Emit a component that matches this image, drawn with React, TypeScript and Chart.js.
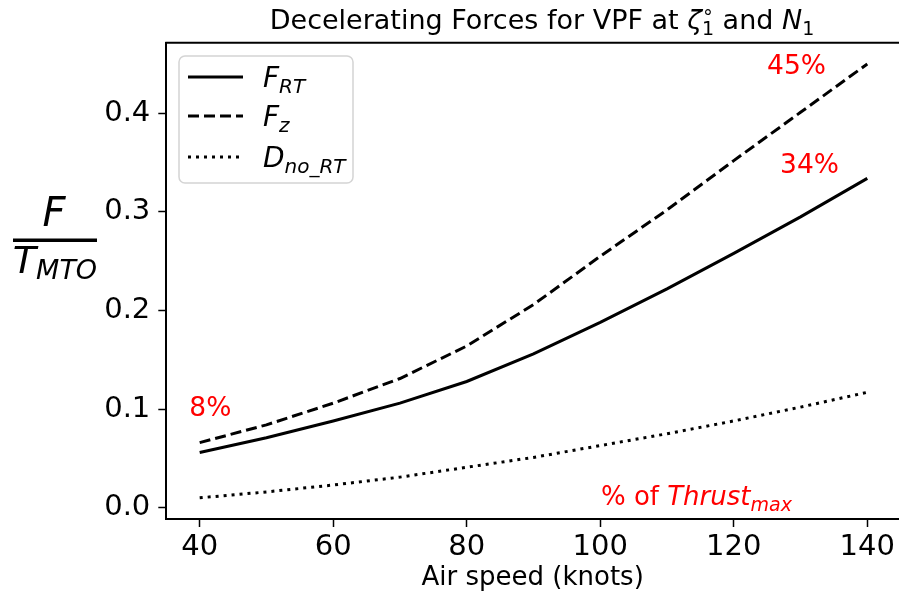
import React, { useEffect, useRef } from "react";
import { Chart, registerables } from "chart.js";

Chart.register(...registerables);

// ---- data ----
const airSpeed = [40, 50, 60, 70, 80, 90, 100, 110, 120, 130, 140];
const fRT = [0.056, 0.071, 0.088, 0.106, 0.128, 0.156, 0.188, 0.222, 0.258, 0.295, 0.334];
const fZ = [0.066, 0.084, 0.106, 0.131, 0.164, 0.206, 0.255, 0.302, 0.352, 0.401, 0.45];
const dNoRT = [0.010, 0.016, 0.023, 0.031, 0.041, 0.051, 0.063, 0.075, 0.088, 0.102, 0.117];
const xTicks = [40, 60, 80, 100, 120, 140];
const yTicks = [0.0, 0.1, 0.2, 0.3, 0.4];
const pctLabels = ["45%", "34%", "8%"];
const pctX = [129.4, 131.35, 41.6];
const pctY = [0.447, 0.346, 0.1];
const noteX = 100.1;
const noteY = 0.003;

const FONT = '"DejaVu Sans"';

type Seg = { t: string; size: number; italic?: boolean; dy?: number; sup?: string; supSize?: number; supDy?: number };

function fnt(size: number, italic?: boolean) {
  return `${italic ? "italic " : ""}${size}px ${FONT}`;
}

function segWidth(ctx: CanvasRenderingContext2D, s: Seg) {
  ctx.font = fnt(s.size, s.italic);
  let w = ctx.measureText(s.t).width;
  if (s.sup) {
    ctx.font = fnt(s.supSize || s.size, false);
    w = Math.max(w, ctx.measureText(s.sup).width);
  }
  return w;
}

function drawRich(ctx: CanvasRenderingContext2D, segs: Seg[], x: number, y: number, align: "left" | "center", color: string) {
  let total = 0;
  for (const s of segs) total += segWidth(ctx, s);
  let cx = align === "center" ? x - total / 2 : x;
  ctx.save();
  ctx.fillStyle = color;
  ctx.textAlign = "left";
  ctx.textBaseline = "alphabetic";
  for (const s of segs) {
    const w = segWidth(ctx, s);
    ctx.font = fnt(s.size, s.italic);
    ctx.fillText(s.t, cx, y + (s.dy || 0));
    if (s.sup) {
      ctx.font = fnt(s.supSize || s.size, false);
      ctx.fillText(s.sup, cx, y + (s.supDy || 0));
    }
    cx += w;
  }
  ctx.restore();
}

const decorPlugin = {
  id: "decor",
  afterDraw(chart: any) {
    const ctx: CanvasRenderingContext2D = chart.ctx;
    const ca = chart.chartArea;
    const xs = chart.scales.x;
    const ys = chart.scales.y;
    ctx.save();
    // top spine
    ctx.strokeStyle = "#000";
    ctx.lineWidth = 2;
    ctx.beginPath();
    ctx.moveTo(ca.left - 1, ca.top);
    ctx.lineTo(ca.right + 2, ca.top);
    ctx.stroke();

    // title
    drawRich(
      ctx,
      [
        { t: "Decelerating Forces for VPF at ", size: 27 },
        { t: "ζ", size: 27, italic: true },
        { t: "1", size: 19, dy: 6, sup: "∘", supSize: 19, supDy: -11 },
        { t: " and ", size: 27 },
        { t: "N", size: 27, italic: true },
        { t: "1", size: 19, dy: 6 },
      ],
      542,
      29,
      "center",
      "#000"
    );

    // y label (fraction)
    drawRich(ctx, [{ t: "F", size: 40, italic: true }], 54, 226, "center", "#000");
    ctx.fillStyle = "#000";
    ctx.fillRect(13, 238.5, 84, 3.5);
    drawRich(
      ctx,
      [
        { t: "T", size: 38, italic: true },
        { t: "MTO", size: 27, italic: true, dy: 6 },
      ],
      55,
      273,
      "center",
      "#000"
    );

    // legend
    const lx = 179, ly = 56, lw = 174, lh = 127, r = 6;
    ctx.beginPath();
    ctx.moveTo(lx + r, ly);
    ctx.arcTo(lx + lw, ly, lx + lw, ly + lh, r);
    ctx.arcTo(lx + lw, ly + lh, lx, ly + lh, r);
    ctx.arcTo(lx, ly + lh, lx, ly, r);
    ctx.arcTo(lx, ly, lx + lw, ly, r);
    ctx.closePath();
    ctx.fillStyle = "rgba(255,255,255,0.8)";
    ctx.fill();
    ctx.strokeStyle = "#d4d4d4";
    ctx.lineWidth = 1.5;
    ctx.stroke();

    const rows: { dash: number[]; y: number; segs: Seg[] }[] = [
      { dash: [], y: 77, segs: [{ t: "F", size: 28, italic: true }, { t: "RT", size: 20, italic: true, dy: 6 }] },
      { dash: [11, 5], y: 116, segs: [{ t: "F", size: 28, italic: true }, { t: "z", size: 20, italic: true, dy: 6 }] },
      { dash: [3, 5], y: 157, segs: [{ t: "D", size: 28, italic: true }, { t: "no_RT", size: 20, italic: true, dy: 6 }] },
    ];
    for (const row of rows) {
      ctx.strokeStyle = "#000";
      ctx.lineWidth = 3;
      ctx.lineCap = "butt";
      ctx.setLineDash(row.dash);
      ctx.beginPath();
      ctx.moveTo(188, row.y);
      ctx.lineTo(243, row.y);
      ctx.stroke();
      ctx.setLineDash([]);
      drawRich(ctx, row.segs, 263, row.y + 10, "left", "#000");
    }

    // red annotations
    ctx.fillStyle = "#ff0000";
    ctx.font = fnt(26.5);
    ctx.textAlign = "center";
    ctx.textBaseline = "middle";
    for (let i = 0; i < pctLabels.length; i++) {
      ctx.fillText(pctLabels[i], xs.getPixelForValue(pctX[i]), ys.getPixelForValue(pctY[i]));
    }
    drawRich(
      ctx,
      [
        { t: "% of ", size: 26 },
        { t: "Thrust", size: 26, italic: true },
        { t: "max", size: 19, italic: true, dy: 6 },
      ],
      xs.getPixelForValue(noteX),
      ys.getPixelForValue(noteY),
      "left",
      "#ff0000"
    );
    ctx.restore();
  },
};

export default function App() {
  const ref = useRef<HTMLCanvasElement | null>(null);
  useEffect(() => {
    if (!ref.current) return;
    const mk = (label: string, data: number[], dash: number[]) => ({
      label,
      data: airSpeed.map((x, i) => ({ x, y: data[i] })),
      borderColor: "#000",
      backgroundColor: "#000",
      borderWidth: 3,
      borderDash: dash,
      borderCapStyle: "butt" as const,
      pointRadius: 0,
      tension: 0,
      fill: false,
    });
    const chart = new Chart(ref.current, {
      type: "line",
      data: {
        datasets: [
          mk("F_RT", fRT, []),
          mk("F_z", fZ, [11, 5]),
          mk("D_no_RT", dNoRT, [3, 5]),
        ],
      },
      options: {
        responsive: false,
        maintainAspectRatio: false,
        animation: false,
        layout: { padding: { top: 42.7, left: 0, right: 0, bottom: 0 } },
        plugins: { legend: { display: false }, title: { display: false }, tooltip: { enabled: false } },
        scales: {
          x: {
            type: "linear",
            min: 35,
            max: 144.75,
            afterFit: (s: any) => { s.height = 82; },
            afterBuildTicks: (s: any) => { s.ticks = xTicks.map((v) => ({ value: v })); },
            ticks: { color: "#000", font: { family: FONT, size: 29 }, padding: 3, maxRotation: 0, callback: (v: any) => String(v) },
            grid: { drawOnChartArea: false, drawTicks: true, tickLength: 8, tickColor: "#000", tickWidth: 1.5 },
            border: { display: true, color: "#000", width: 2 },
            title: { display: true, text: "Air speed (knots)", color: "#000", font: { family: FONT, size: 26 }, padding: { top: 0, bottom: 7 } },
          },
          y: {
            type: "linear",
            min: -0.01147,
            max: 0.4716,
            afterFit: (s: any) => { s.width = 166.3; },
            afterBuildTicks: (s: any) => { s.ticks = yTicks.map((v) => ({ value: v })); },
            ticks: { color: "#000", font: { family: FONT, size: 29 }, padding: 8, callback: (v: any) => Number(v).toFixed(1) },
            grid: { drawOnChartArea: false, drawTicks: true, tickLength: 8, tickColor: "#000", tickWidth: 1.5 },
            border: { display: true, color: "#000", width: 2 },
          },
        },
      },
      plugins: [decorPlugin],
    });
    return () => chart.destroy();
  }, []);
  return (
    <div style={{ position: "fixed", left: 0, top: 0, width: 899, height: 601, background: "#fff" }}>
      <canvas ref={ref} width={899} height={601} />
    </div>
  );
}
